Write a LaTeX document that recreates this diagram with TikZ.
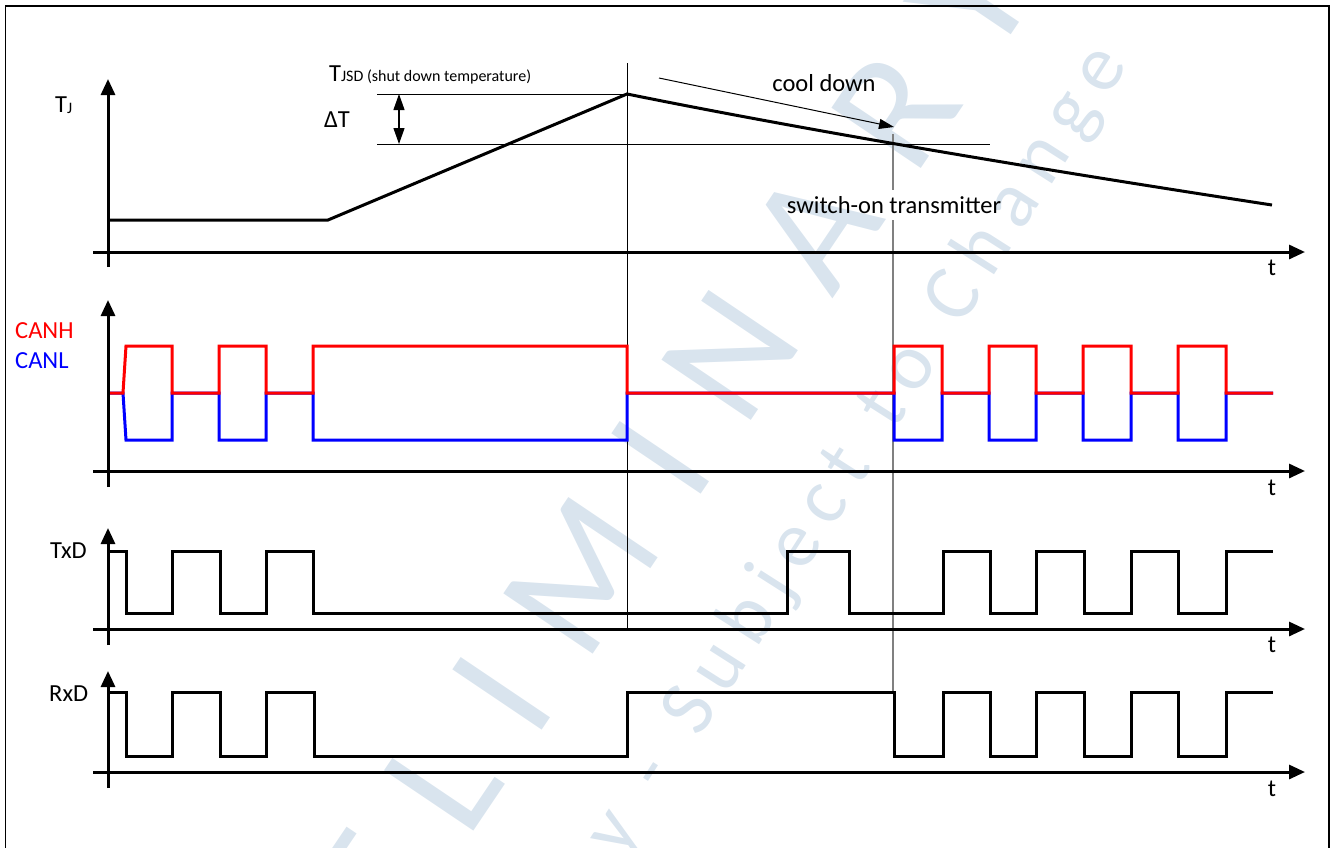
\documentclass[tikz,border=0pt]{standalone}
\usepackage{fontspec}
\setmainfont{Carlito}
\newfontfamily\wmfont{Carlito}
\usetikzlibrary{arrows.meta}
\definecolor{wmblue}{RGB}{217,228,238}
\definecolor{canred}{RGB}{255,0,0}
\definecolor{canblue}{RGB}{0,0,255}
\definecolor{markgray}{RGB}{128,128,128}
\newcommand\wmg{\hspace{13.8pt}}
\newcommand\wmG{\hspace{41pt}}
\newcommand\wmb{\hspace{49pt}}
\begin{document}
\begin{tikzpicture}[x=1pt,y=-1pt,
  axis/.style={line width=3pt,-{Triangle[length=16pt,width=14pt]}},
  sig/.style={line width=3pt,line join=miter},
  thinline/.style={line width=1pt},
  lbl/.style={inner sep=0pt,font=\fontsize{24.5}{29}\selectfont},
  wmtext/.style={inner sep=0pt,text=wmblue}]
\useasboundingbox (0,0) rectangle (1331,847);

% watermark and frame
\begin{scope}
\clip (0,0) rectangle (1331,847);
\node[wmtext, rotate=56, anchor=base west, font={\wmfont\fontsize{168}{168}\selectfont}] (wmbig) at (240,1178)
  {P\wmb R\wmb E\wmb L\wmb I\wmb M\wmb I\wmb N\wmb A\wmb R\wmb Y};
\node[wmtext, rotate=57.5, anchor=base west, font={\wmfont\fontsize{80}{80}\selectfont}] (wmsub) at (699,739)
  {S\wmg u\wmg b\wmg j\wmg e\wmg c\wmg t\wmG t\wmg o\wmG C\wmg h\wmg a\wmg n\wmg g\wmg e};
\node[wmtext, rotate=57.5, anchor=base east, font={\wmfont\fontsize{80}{80}\selectfont}] (wmpre) at (677,774)
  {P\wmg r\wmg e\wmg l\wmg i\wmg m\wmg i\wmg n\wmg a\wmg r\wmg y\wmG -};
\coordinate (fbl) at (5.5,880);
\coordinate (ftl) at (5.5,6);
\coordinate (ftr) at (1329,6);
\coordinate (fbr) at (1329,880);
\draw[line width=1.5pt] (fbl) -- (ftl) -- (ftr) -- (fbr);
\end{scope}

% marker lines
\coordinate (sdtop) at (627,63);
\coordinate (sdbot) at (627,628);
\draw[line width=1pt] (sdtop) -- (sdbot);
\coordinate (swtop) at (893,134);
\coordinate (swa) at (893,190);
\coordinate (swb) at (893,220);
\coordinate (swbot) at (893,692);
\draw[line width=1.5pt, markgray] (swtop) -- (swa) (swb) -- (swbot);

% panel 1
\coordinate (h1a) at (377,94);
\coordinate (h1b) at (627,94);
\coordinate (h2a) at (377,144);
\coordinate (h2b) at (990,144);
\draw[thinline] (h1a) -- (h1b);
\draw[thinline] (h2a) -- (h2b);
\coordinate (dta) at (399,94);
\coordinate (dtb) at (399,144);
\draw[line width=1.2pt, {Triangle[length=16pt,width=11pt]}-{Triangle[length=16pt,width=11pt]}] (dta) -- (dtb);
\coordinate (cda) at (659,78);
\coordinate (cdb) at (894,127);
\draw[thinline, -{Triangle[length=15pt,width=10pt]}] (cda) -- (cdb);
\draw[sig] (108,220) -- (328,220) -- (627,94) .. controls (790,127) and (1005,164) .. (1272,205);

% CAN panel
\draw[sig, canblue] (108,393) -- (123,393) -- (126,440) -- (172,440) -- (172,393) -- (219,393) -- (219,440) -- (266,440) -- (266,393)
  -- (313,393) -- (313,440) -- (627,440) -- (627,393) -- (894,393) -- (894,440) -- (942,440) -- (942,393)
  -- (989,393) -- (989,440) -- (1036,440) -- (1036,393) -- (1083,393) -- (1083,440) -- (1131,440) -- (1131,393)
  -- (1178,393) -- (1178,440) -- (1226,440) -- (1226,393) -- (1273,393);
\draw[sig, canred] (108,393) -- (123,393) -- (126,346) -- (172,346) -- (172,393) -- (219,393) -- (219,346) -- (266,346) -- (266,393)
  -- (313,393) -- (313,346) -- (627,346) -- (627,393) -- (894,393) -- (894,346) -- (942,346) -- (942,393)
  -- (989,393) -- (989,346) -- (1036,346) -- (1036,393) -- (1083,393) -- (1083,346) -- (1131,346) -- (1131,393)
  -- (1178,393) -- (1178,346) -- (1226,346) -- (1226,393) -- (1273,393);

% TxD
\draw[sig] (108,551) -- (126,551) -- (126,613) -- (172,613) -- (172,551) -- (220,551) -- (220,613) -- (266,613) -- (266,551)
  -- (313,551) -- (313,613) -- (787,613) -- (787,551) -- (849,551) -- (849,613) -- (943,613) -- (943,551)
  -- (990,551) -- (990,613) -- (1036,613) -- (1036,551) -- (1084,551) -- (1084,613) -- (1131,613) -- (1131,551)
  -- (1178,551) -- (1178,613) -- (1226,613) -- (1226,551) -- (1273,551);

% RxD
\draw[sig] (108,692) -- (126,692) -- (126,756) -- (172,756) -- (172,692) -- (220,692) -- (220,756) -- (266,756) -- (266,692)
  -- (314,692) -- (314,756) -- (627,756) -- (627,692) -- (894,692) -- (894,756) -- (943,756) -- (943,692)
  -- (990,692) -- (990,756) -- (1036,756) -- (1036,692) -- (1084,692) -- (1084,756) -- (1131,756) -- (1131,692)
  -- (1178,692) -- (1178,756) -- (1226,756) -- (1226,692) -- (1273,692);

% axes
\coordinate (y1b) at (108,267); \coordinate (y1t) at (108,79);
\coordinate (x1l) at (93,252);  \coordinate (x1r) at (1305,252);
\coordinate (y2b) at (108,487); \coordinate (y2t) at (108,300);
\coordinate (x2l) at (93,471);  \coordinate (x2r) at (1305,471);
\coordinate (y3b) at (108,645); \coordinate (y3t) at (108,528);
\coordinate (x3l) at (93,629);  \coordinate (x3r) at (1305,629);
\coordinate (y4b) at (108,788); \coordinate (y4t) at (108,671);
\coordinate (x4l) at (93,772);  \coordinate (x4r) at (1305,772);
\draw[axis] (y1b) -- (y1t);
\draw[axis] (x1l) -- (x1r);
\draw[axis] (y2b) -- (y2t);
\draw[axis] (x2l) -- (x2r);
\draw[axis] (y3b) -- (y3t);
\draw[axis] (x3l) -- (x3r);
\draw[axis] (y4b) -- (y4t);
\draw[axis] (x4l) -- (x4r);

% labels
\node[lbl, anchor=base west] (tj) at (55,112) {T\raisebox{-1.5pt}{\fontsize{16}{16}\selectfont J}};
\node[lbl, anchor=base west] (tjsd) at (329,81) {T{\fontsize{16}{16}\selectfont JSD (shut down temperature)}};
\node[lbl] (dt) at (337,120) {ΔT};
\node[lbl] (cool) at (824,83.5) {cool down};
\node[lbl] (switch) at (894,205) {switch-on transmitter};
\node[lbl, anchor=west, text=canred] (canh) at (15,331) {CANH};
\node[lbl, anchor=west, text=canblue] (canl) at (15,361) {CANL};
\node[lbl, anchor=west] (txd) at (50,551) {TxD};
\node[lbl, anchor=west] (rxd) at (49,694) {RxD};
\node[lbl] (t1) at (1272,268) {t};
\node[lbl] (t2) at (1272,488) {t};
\node[lbl] (t3) at (1272,645) {t};
\node[lbl] (t4) at (1272,789) {t};
\end{tikzpicture}
\end{document}
